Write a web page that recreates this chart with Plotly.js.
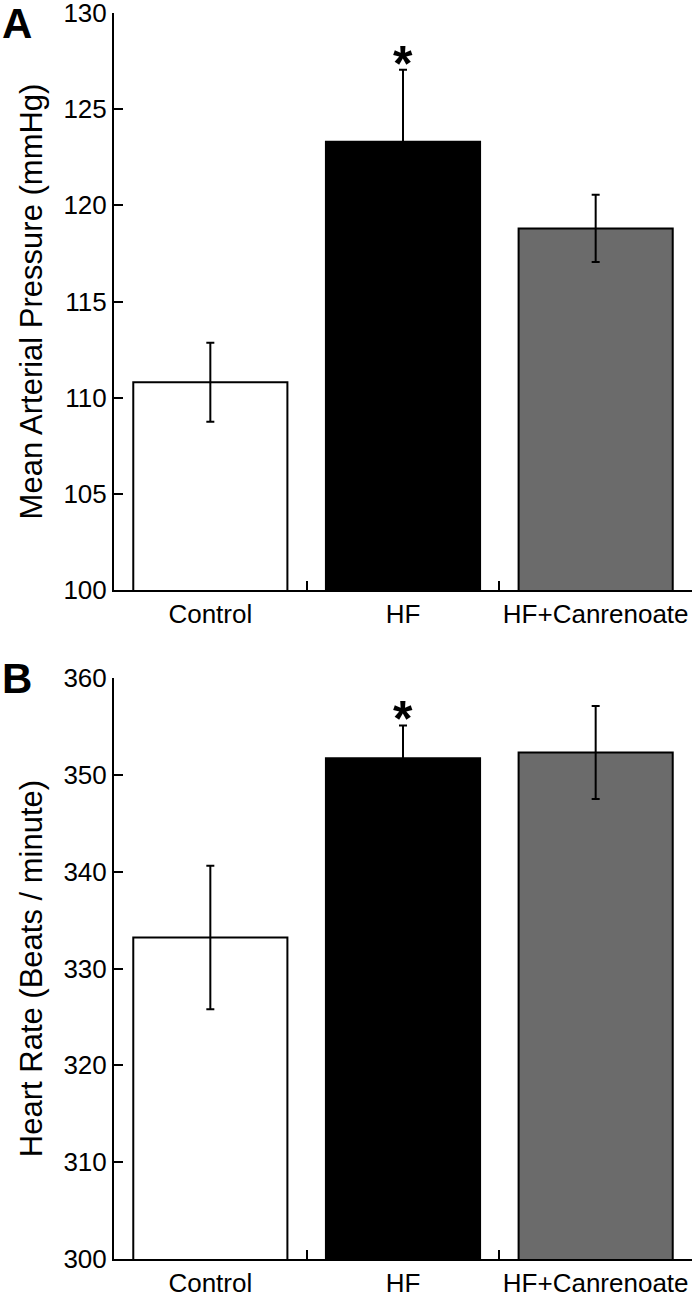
<!DOCTYPE html>
<html>
<head>
<meta charset="utf-8">
<script src="https://cdn.plot.ly/plotly-3.0.1.min.js"></script>
<style>html,body{margin:0;padding:0;background:#fff;}#chart{width:698px;height:1299px;}</style>
</head>
<body>
<div id="chart"></div>
<script>
const categories = ["Control", "HF", "HF+Canrenoate"];
const mapValues = [110.8, 123.3, 118.8];
const mapErrors = [2.05, 3.75, 1.75];
const hrValues = [333.2, 351.7, 352.3];
const hrErrors = [7.4, 3.4, 4.8];
const significant = [false, true, false];
const barColors = ["#ffffff", "#000000", "#6b6b6b"];
const mapTicks = [100, 105, 110, 115, 120, 125, 130];
const hrTicks = [300, 310, 320, 330, 340, 350, 360];

const FONT = "Liberation Sans, Arial, sans-serif";

function barTrace(vals, errs, xa, ya) {
  return {
    type: "bar", x: categories, y: vals, xaxis: xa, yaxis: ya,
    width: 0.8,
    marker: {color: barColors, line: {color: "#000", width: 2}},
    error_y: {type: "data", array: errs, visible: true, color: "#000", thickness: 2, width: 4},
    hoverinfo: "skip", showlegend: false
  };
}

const data = [
  barTrace(mapValues, mapErrors, "x", "y"),
  barTrace(hrValues, hrErrors, "x2", "y2")
];

function xAxis(domainAnchor) {
  return {
    type: "category", domain: [114/698, 692/698], anchor: domainAnchor,
    tickson: "boundaries", ticks: "inside", ticklen: 9, tickwidth: 2, tickcolor: "#000",
    showline: true, linecolor: "#000", linewidth: 2, showgrid: false, zeroline: false,
    tickangle: 0, ticklabeloverflow: "allow",
    tickfont: {family: FONT, size: 26, color: "#000"}, fixedrange: true
  };
}
function yAxis(domain, range, ticks, title, anchor) {
  return {
    domain: domain, range: range, anchor: anchor, tickvals: ticks,
    ticks: "inside", ticklen: 9, tickwidth: 2, tickcolor: "#000",
    showline: true, linecolor: "#000", linewidth: 2, showgrid: false, zeroline: false,
    ticklabeloverflow: "allow",
    tickfont: {family: FONT, size: 26, color: "#000"},
    title: {text: title, font: {family: FONT, size: 31, color: "#000"}, standoff: 12},
    fixedrange: true
  };
}

const H = 1299;
const annotations = [
  {text: "<b>A</b>", x: 0, y: 1 - 23/H, xref: "paper", yref: "paper", xanchor: "left", yanchor: "middle", showarrow: false, font: {family: FONT, size: 42, color: "#000"}},
  {text: "<b>B</b>", x: 0, y: 1 - 678/H, xref: "paper", yref: "paper", xanchor: "left", yanchor: "middle", showarrow: false, font: {family: FONT, size: 42, color: "#000"}}
];
categories.forEach((c, i) => {
  if (significant[i]) {
    annotations.push({text: "<b>*</b>", x: c, y: mapValues[i] + mapErrors[i], xref: "x", yref: "y", yanchor: "middle", yshift: 6, showarrow: false, font: {family: FONT, size: 50, color: "#000"}});
    annotations.push({text: "<b>*</b>", x: c, y: hrValues[i] + hrErrors[i], xref: "x2", yref: "y2", yanchor: "middle", yshift: 6, showarrow: false, font: {family: FONT, size: 50, color: "#000"}});
  }
});

const layout = {
  width: 698, height: 1299,
  margin: {l: 0, r: 0, t: 0, b: 0},
  paper_bgcolor: "#fff", plot_bgcolor: "#fff",
  xaxis: xAxis("y"),
  yaxis: yAxis([1 - 590/H, 1 - 13/H], [100, 130], mapTicks, "Mean Arterial Pressure (mmHg)", "x"),
  xaxis2: xAxis("y2"),
  yaxis2: yAxis([1 - 1259/H, 1 - 678/H], [300, 360], hrTicks, "Heart Rate (Beats / minute)", "x2"),
  annotations: annotations,
  font: {family: FONT, color: "#000"}
};

Plotly.newPlot("chart", data, layout, {displayModeBar: false, staticPlot: true});
</script>
</body>
</html>
